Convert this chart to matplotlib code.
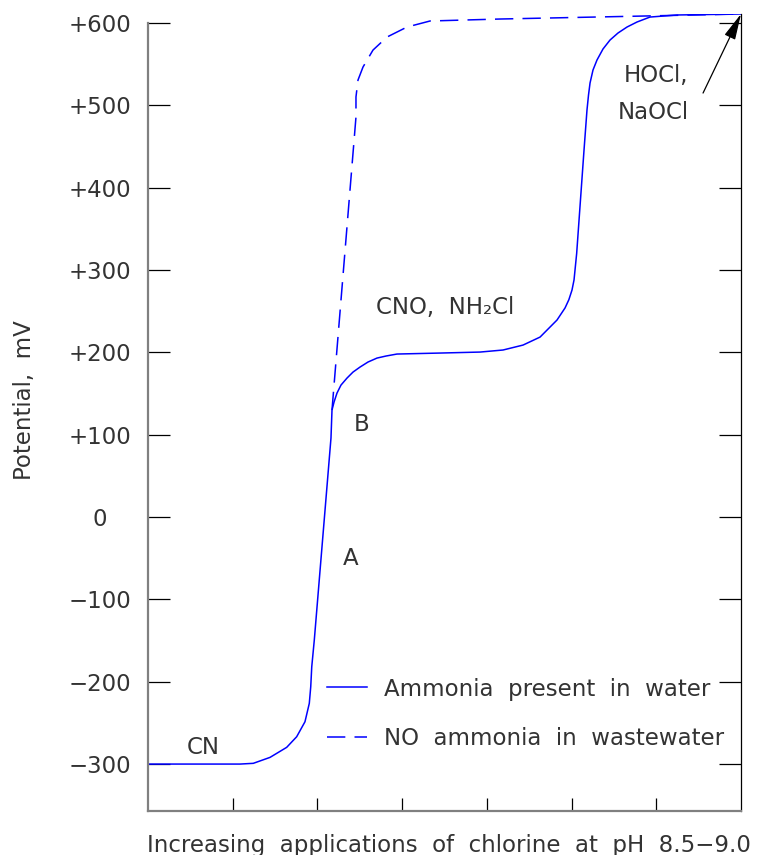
import matplotlib.pyplot as plt
import numpy as np

plt.rcParams['font.family'] = ['DejaVu Sans']

# curve (x = chlorine applied, arbitrary units; y = mV)
amm_x = [0.0, 1.086, 1.243, 1.440, 1.637, 1.755, 1.853, 1.904, 1.921, 1.933, 1.963,
         2.160, 2.172, 2.196, 2.231, 2.278, 2.349, 2.420, 2.503, 2.597, 2.703, 2.810,
         2.939, 3.447, 3.919, 4.191, 4.427, 4.628, 4.828, 4.923, 4.968, 5.005, 5.029,
         5.060, 5.147, 5.182, 5.200, 5.218, 5.253, 5.300, 5.371, 5.454, 5.548, 5.655,
         5.773, 5.926, 6.245, 7.0]
amm_y = [-300, -300, -299.1, -291.9, -279.7, -266.8, -248.6, -226.3, -206.1, -181.8, -149.4,
         96.0, 130.0, 139.7, 150.6, 160.3, 168.8, 176.1, 182.2, 188.3, 193.1, 195.6,
         198.0, 199.2, 200.4, 202.9, 208.9, 218.6, 239.3, 254.0, 264.0, 275.7, 288.0,
         320.0, 445.8, 494.4, 512.6, 527.2, 543.0, 555.1, 568.5, 579.4, 587.9, 595.2,
         601.3, 607.3, 609.8, 611.0]

noamm_x = [2.172, 2.455, 2.455, 2.479, 2.538, 2.656, 2.821, 3.058, 3.329, 4.155, 7.0]
noamm_y = [130.0, 485.9, 510.2, 530.8, 546.6, 567.2, 583.0, 595.2, 602.5, 604.9, 611.0]

yticks = [-300, -200, -100, 0, 100, 200, 300, 400, 500, 600]
ylabels = ['\u2212300', '\u2212200', '\u2212100', '0', '+100', '+200', '+300', '+400', '+500', '+600']
xticks = [1, 2, 3, 4, 5, 6]

txt = '#333333'
fs = 16.5

fig = plt.figure(figsize=(7.62, 8.55), dpi=100)
ax = fig.add_axes([148/762, 1 - 811/855, 593/762, 797/855])

ax.plot(amm_x, amm_y, color='blue', lw=1.1, label='Ammonia  present  in  water')
ax.plot(noamm_x, noamm_y, color='blue', lw=1.1, dashes=(12, 6),
        label='NO  ammonia  in  wastewater')

ax.set_xlim(0, 7)
ax.set_ylim(-357, 611)

ax.spines['top'].set_visible(False)
ax.spines['left'].set_color('#808080')
ax.spines['left'].set_linewidth(1.6)
ax.spines['left'].set_bounds(-357, 600)
ax.spines['bottom'].set_color('#808080')
ax.spines['bottom'].set_linewidth(1.6)
ax.spines['right'].set_color('black')
ax.spines['right'].set_linewidth(0.9)

ax.set_yticks(yticks)
ax.set_yticklabels(ylabels)
ax.set_xticks(xticks)
ax.set_xticklabels([])
ax.tick_params(axis='y', direction='in', length=16, width=0.9, color='black',
               right=True, pad=34.5, labelsize=fs, labelcolor=txt)
ax.tick_params(axis='x', direction='in', length=9.5, width=0.9, color='black')
for lab in ax.get_yticklabels():
    lab.set_horizontalalignment('center')

ax.set_ylabel('Potential,  mV', fontsize=fs, color=txt)
ax.yaxis.label.set_va('center')
ax.yaxis.set_label_coords(-0.209, 0.5157)
ax.set_xlabel('Increasing  applications  of  chlorine  at  pH  8.5\u22129.0', fontsize=fs, color=txt)
ax.xaxis.label.set_va('center')
ax.xaxis.set_label_coords(0.5076, -0.0427)

ax.text(0.649, -279.4, 'CN', fontsize=fs, color=txt, ha='center', va='center')
ax.text(2.396, -49.8, 'A', fontsize=fs, color=txt, ha='center', va='center')
ax.text(2.526, 113, 'B', fontsize=fs, color=txt, ha='center', va='center')
ax.text(3.506, 255.1, 'CNO,  NH\u2082Cl', fontsize=fs, color=txt, ha='center', va='center')
ax.text(5.997, 535.7, 'HOCl,', fontsize=fs, color=txt, ha='center', va='center')
ax.text(5.961, 491.3, 'NaOCl', fontsize=fs, color=txt, ha='center', va='center')

ax.annotate('', xy=(7.0, 611), xytext=(6.552, 515.0), annotation_clip=False,
            arrowprops=dict(arrowstyle='-|>,head_length=0.8,head_width=0.18',
                            mutation_scale=20, color='black', lw=0.9,
                            shrinkA=0, shrinkB=0))

leg = ax.legend(loc='upper left', bbox_to_anchor=(0.302, 0.1675), frameon=False,
                fontsize=fs, handlelength=1.75, handletextpad=0.75,
                labelspacing=1.15, borderpad=0, borderaxespad=0)
for t in leg.get_texts():
    t.set_color(txt)

fig.savefig('out.png', dpi=100)
